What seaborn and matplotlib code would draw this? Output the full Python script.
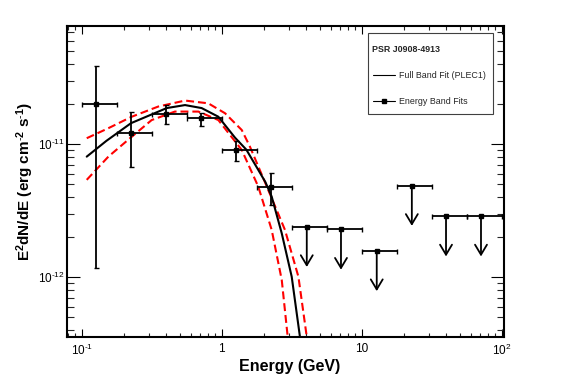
import numpy as np
import pandas as pd
import matplotlib
matplotlib.use("Agg")
import matplotlib.pyplot as plt
import seaborn as sns
from matplotlib.lines import Line2D
from matplotlib.patches import Rectangle
from matplotlib.ticker import FixedLocator, FixedFormatter, LogLocator, NullFormatter

# Energy band fits (detections), energy in GeV, E^2 dN/dE in erg cm^-2 s^-1
band_e = [0.1265, 0.225, 0.400, 0.711, 1.265, 2.25]
band_e_lo = [0.100, 0.178, 0.316, 0.562, 1.00, 1.78]
band_e_hi = [0.178, 0.316, 0.562, 1.00, 1.78, 3.16]
band_f = [2.00e-11, 1.22e-11, 1.69e-11, 1.57e-11, 9.06e-12, 4.80e-12]
band_f_lo = [1.17e-12, 6.79e-12, 1.41e-11, 1.36e-11, 7.53e-12, 3.50e-12]
band_f_hi = [3.88e-11, 1.76e-11, 1.96e-11, 1.71e-11, 1.06e-11, 6.11e-12]

# Upper limits
ul_e = [4.05, 7.11, 12.8, 22.8, 40.0, 71.1]
ul_e_lo = [3.16, 5.62, 10.0, 17.8, 31.6, 56.2]
ul_e_hi = [5.62, 10.0, 17.8, 31.6, 56.2, 100.0]
ul_f = [2.40e-12, 2.29e-12, 1.58e-12, 4.89e-12, 2.88e-12, 2.88e-12]

# Full band fit (PLEC1)
fit_e = [0.1086, 0.150, 0.2249, 0.4046, 0.547, 0.719, 0.946, 1.245, 1.50, 1.825, 2.05,
         2.275, 2.684, 3.162, 3.62]
fit_f = [8.07e-12, 1.06e-11, 1.44e-11, 1.87e-11, 1.97e-11, 1.87e-11, 1.61e-11, 1.12e-11,
         9.1e-12, 6.41e-12, 5.2e-12, 4.04e-12, 2.14e-12, 1.01e-12, 3.57e-13]
# error band
up_e = [0.1086, 0.155, 0.2276, 0.352, 0.547, 0.802, 1.056, 1.39, 1.59, 2.15, 2.83, 3.53, 4.05]
up_f = [1.11e-11, 1.32e-11, 1.61e-11, 1.92e-11, 2.13e-11, 2.03e-11, 1.71e-11, 1.28e-11,
        9.6e-12, 4.53e-12, 2.27e-12, 1.01e-12, 3.57e-13]
lo_e = [0.1086, 0.155, 0.2213, 0.316, 0.463, 0.681, 0.946, 1.39, 1.825, 2.275, 2.684, 2.96]
lo_f = [5.40e-12, 8.07e-12, 1.11e-11, 1.52e-11, 1.76e-11, 1.76e-11, 1.52e-11, 9.06e-12,
        4.80e-12, 2.27e-12, 9.55e-13, 3.57e-13]

xtick_vals = [0.1, 1, 10, 100]
xtick_labels = ["$10^{\\text{-}1}$", "1", "10", "$10^{2}$"]
ytick_vals = [1e-12, 1e-11]
ytick_labels = ["$10^{\\text{-}12}$", "$10^{\\text{-}11}$"]

sns.set_theme(style="ticks")
plt.rcParams['font.family'] = ['Liberation Sans', 'DejaVu Sans']
plt.rcParams['mathtext.fontset'] = 'custom'
plt.rcParams['mathtext.rm'] = 'Liberation Sans'
plt.rcParams['mathtext.bf'] = 'Liberation Sans:bold'
plt.rcParams['mathtext.default'] = 'regular'
plt.rcParams['axes.unicode_minus'] = False

W, H = 567, 384
fig = plt.figure(figsize=(W / 100, H / 100), dpi=100)
ax = fig.add_axes([67.3 / W, 1 - 337.3 / H, (504 - 67.3) / W, (337.3 - 26) / H])
ax.set_xscale('log')
ax.set_yscale('log')

fit_df = pd.DataFrame({"E": fit_e, "F": fit_f})
up_df = pd.DataFrame({"E": up_e, "F": up_f})
lo_df = pd.DataFrame({"E": lo_e, "F": lo_f})

dash = (0, (3.8, 1.9))
sns.lineplot(data=up_df, x="E", y="F", ax=ax, color="#ff0000", lw=1.5, linestyle=dash, zorder=2)
sns.lineplot(data=lo_df, x="E", y="F", ax=ax, color="#ff0000", lw=1.5, linestyle=dash, zorder=2)
sns.lineplot(data=fit_df, x="E", y="F", ax=ax, color="black", lw=1.5, zorder=3)

# detections
be = np.array(band_e)
bf = np.array(band_f)
xerr = [be - np.array(band_e_lo), np.array(band_e_hi) - be]
yerr = [bf - np.array(band_f_lo), np.array(band_f_hi) - bf]
ax.errorbar(be, bf, xerr=xerr, yerr=yerr, fmt='s', color='black', ms=3.5,
            elinewidth=1.3, capsize=1.8, capthick=1.0, zorder=4)

# upper limits
ue = np.array(ul_e)
uxerr = [ue - np.array(ul_e_lo), np.array(ul_e_hi) - ue]
ax.errorbar(ue, ul_f, xerr=uxerr, fmt='s', color='black', ms=3.5,
            elinewidth=1.3, capsize=1.8, capthick=1.0, zorder=4)
for x, y in zip(ul_e, ul_f):
    ax.annotate("", xy=(x, y), xytext=(0, -29), textcoords="offset points",
                arrowprops=dict(arrowstyle="<-, head_length=0.72, head_width=0.43",
                                lw=1.3, color="black", shrinkA=0, shrinkB=0,
                                mutation_scale=10), zorder=4)

ax.set_xlim(0.0789, 103.8)
ax.set_ylim(3.54e-13, 7.74e-11)

ax.xaxis.set_major_locator(FixedLocator(xtick_vals))
ax.xaxis.set_major_formatter(FixedFormatter(xtick_labels))
ax.xaxis.set_minor_locator(LogLocator(base=10, subs=np.arange(2, 10)))
ax.xaxis.set_minor_formatter(NullFormatter())
ax.yaxis.set_major_locator(FixedLocator(ytick_vals))
ax.yaxis.set_major_formatter(FixedFormatter(ytick_labels))
ax.yaxis.set_minor_locator(LogLocator(base=10, subs=np.arange(2, 10)))
ax.yaxis.set_minor_formatter(NullFormatter())

ax.tick_params(axis='x', which='major', direction='in', length=6, width=0.8,
               top=True, bottom=True, pad=4, labelsize=8.5, colors='black')
ax.tick_params(axis='x', which='minor', direction='in', length=3, width=0.8, top=True, bottom=True)
ax.tick_params(axis='y', which='major', direction='in', length=9.5, width=0.8,
               left=True, right=True, pad=2, labelsize=8.5, colors='black')
ax.tick_params(axis='y', which='minor', direction='in', length=5, width=0.8, left=True, right=True)
for s in ax.spines.values():
    s.set_linewidth(1.5)
    s.set_color('black')

ax.set_xlabel("Energy (GeV)", fontsize=11.5, fontweight='bold', color='black')
ax.set_ylabel("E$^{2}$dN/dE (erg cm$^{\\text{-}2}$ s$^{\\text{-}1}$)", fontsize=11,
              fontweight='bold', color='black')
ax.xaxis.set_label_coords((290 - 67.3) / (504 - 67.3), (337.3 - 359) / (337.3 - 26))
ax.yaxis.set_label_coords((36 - 67.3) / (504 - 67.3), 0.5)

# legend box drawn in figure pixels
fig.patches.append(Rectangle((368.3 / W, 1 - 114.3 / H), 125 / W, 81 / H, transform=fig.transFigure,
                             fill=False, ec='0.25', lw=0.8, zorder=10))
fig.text(371.5 / W, 1 - 49 / H, "PSR J0908-4913", fontsize=6.4, fontweight='bold', va='center')
fig.add_artist(Line2D([372.7 / W, 395 / W], [1 - 75 / H] * 2, color='black', lw=0.8))
fig.text(399.3 / W, 1 - 75 / H, "Full Band Fit (PLEC1)", fontsize=6.4, va='center')
fig.add_artist(Line2D([372.7 / W, 384 / W, 395 / W], [1 - 101 / H] * 3, color='black', lw=0.8,
                      marker='s', ms=3.5, markevery=[1]))
fig.text(399.3 / W, 1 - 101 / H, "Energy Band Fits", fontsize=6.4, va='center')

fig.savefig("out.png", dpi=100)
